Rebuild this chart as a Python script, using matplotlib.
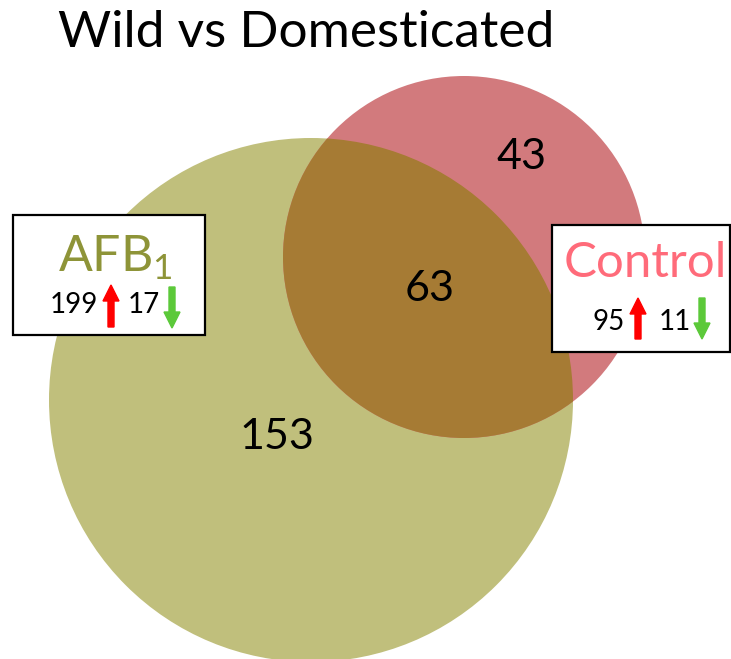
import matplotlib
matplotlib.use("Agg")
import matplotlib.pyplot as plt
from matplotlib.patches import Circle, Rectangle, FancyArrow

# Data
title = "Wild vs Domesticated"
set_names = ["AFB", "Control"]
region_labels = ["153", "63", "43"]  # AFB only, both, Control only
afb_counts = [199, 17]      # up, down
control_counts = [95, 11]   # up, down

FONT = ["Lato", "DejaVu Sans"]

fig = plt.figure(figsize=(7.31, 6.59), dpi=100)
ax = fig.add_axes([0, 0, 1, 1])
ax.set_xlim(0, 731)
ax.set_ylim(659, 0)
ax.set_aspect("equal")
ax.axis("off")

olive = "#C0BF7C"
pink = "#D27A7D"
brown = "#A67B34"

big = Circle((311, 400), 262, facecolor=olive, edgecolor="none", zorder=1)
small = Circle((464, 257), 181, facecolor=pink, edgecolor="none", zorder=2)
ax.add_patch(big)
ax.add_patch(small)
inter = Circle((311, 400), 262, facecolor=brown, edgecolor="none", zorder=3)
ax.add_patch(inter)
clip = Circle((464, 257), 181, transform=ax.transData)
inter.set_clip_path(clip)

ax.text(306, 33, title, fontsize=37, family=FONT, ha="center", va="center", zorder=10)

ax.text(277, 437, region_labels[0], fontsize=31, family=FONT, ha="center", va="center", zorder=10)
ax.text(430, 289, region_labels[1], fontsize=31, family=FONT, ha="center", va="center", zorder=10)
ax.text(521, 157, region_labels[2], fontsize=31, family=FONT, ha="center", va="center", zorder=10)

# Boxes
ax.add_patch(Rectangle((13, 215), 192, 120, facecolor="white", edgecolor="black", lw=1.6, zorder=5))
ax.add_patch(Rectangle((552, 225), 178, 127, facecolor="white", edgecolor="black", lw=1.6, zorder=5))

ax.text(115, 258, set_names[0] + "$_{\\mathregular{1}}$", fontsize=36, family=FONT, color="#8E9438",
        ha="center", va="center", zorder=10)
ax.text(645, 263, set_names[1], fontsize=35.5, family=FONT, color="#FF6B7A",
        ha="center", va="center", zorder=10)

def arrow(x, y0, y1, color):
    ax.add_patch(FancyArrow(x, y0, 0, y1 - y0, width=6, head_width=16, head_length=16,
                            length_includes_head=True, color=color, zorder=10))

ax.text(98, 305, str(afb_counts[0]), fontsize=20, family=FONT, ha="right", va="center", zorder=10)
arrow(111, 327, 285, "#FF0000")
ax.text(160, 305, str(afb_counts[1]), fontsize=20, family=FONT, ha="right", va="center", zorder=10)
arrow(172, 287, 328, "#5CC93A")

ax.text(625, 322, str(control_counts[0]), fontsize=20, family=FONT, ha="right", va="center", zorder=10)
arrow(638, 339, 298, "#FF0000")
ax.text(691, 322, str(control_counts[1]), fontsize=20, family=FONT, ha="right", va="center", zorder=10)
arrow(702, 298, 339, "#5CC93A")

fig.savefig("out.png", dpi=100)
